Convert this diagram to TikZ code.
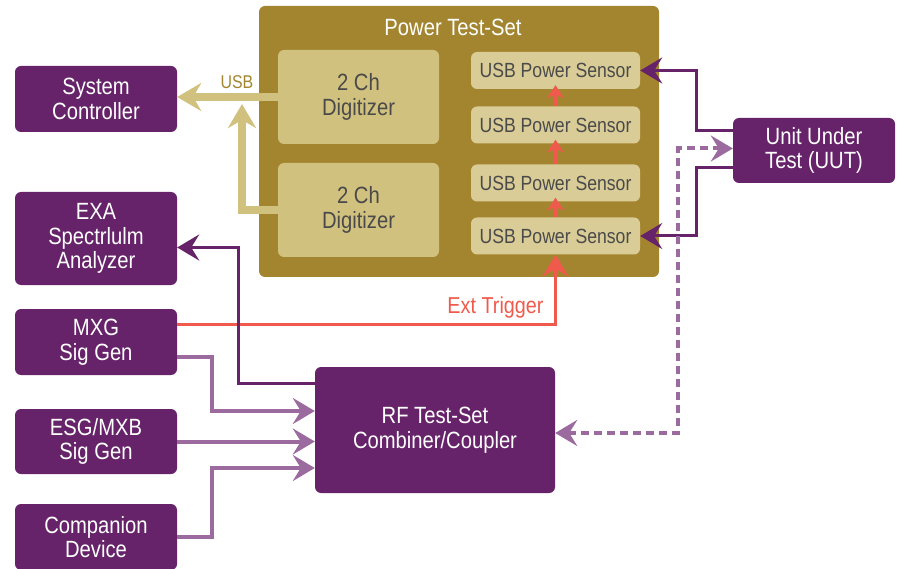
\documentclass[tikz,border=0pt]{standalone}
\usepackage{fontspec}
\setmainfont[FakeStretch=0.86]{Liberation Sans}
\usepackage{tikz}
\usetikzlibrary{arrows.meta,positioning,calc}
\definecolor{TSPurple}{HTML}{66236A}
\definecolor{TSLilac}{HTML}{9B6A9E}
\definecolor{TSGold}{HTML}{A3852F}
\definecolor{TSTan}{HTML}{D1C17F}
\definecolor{TSSand}{HTML}{D9CC96}
\definecolor{TSRed}{HTML}{F05A4C}
\definecolor{TSGray}{HTML}{4A4A4A}

\begin{document}
\begin{tikzpicture}[x=1pt, y=-1pt,
    >={Stealth[length=22pt, width=26pt, inset=8pt]},
    unitbox/.style={fill=TSPurple, text=white, rounded corners=6pt, inner sep=0pt,
        minimum width=162pt, align=center, font=\fontsize{23.5}{24.5}\selectfont},
    digibox/.style={fill=TSTan, text=TSGray, rounded corners=6pt, inner sep=0pt,
        minimum width=161pt, minimum height=94pt, align=center, font=\fontsize{23.5}{24.5}\selectfont},
    sensorbox/.style={fill=TSSand, text=TSGray, rounded corners=6pt, inner sep=0pt,
        minimum width=169pt, minimum height=37pt, font=\fontsize{20.5}{22}\selectfont},
    darkline/.style={->, TSPurple, line width=3pt},
    lightline/.style={->, TSLilac, line width=4pt},
    trigline/.style={->, TSRed, line width=3pt},
    usbline/.style={->, TSTan, line width=8pt, >={Stealth[length=24pt, width=28pt, inset=8pt]}}]
    \useasboundingbox (0,0) rectangle (899,569);

    % instruments on the left
    \node[unitbox, minimum height=66pt] (sysctrl) at (96,99) {System\\Controller};
    \node[unitbox, minimum height=93pt] (exa) at (96,238.5) {EXA\\Spectrlulm\\Analyzer};
    \node[unitbox, minimum height=66pt] (mxg) at (96,342) {MXG\\Sig Gen};
    \node[unitbox, minimum height=65pt] (esg) at (96,441.5) {ESG/MXB\\Sig Gen};
    \node[unitbox, minimum height=66pt] (comp) at (96,537) {Companion\\Device};

    % power test-set
    \node[fill=TSGold, rounded corners=6pt, minimum width=400pt, minimum height=271pt] (pts) at (459,141.5) {};
    \node[text=white, font=\fontsize{23.5}{24.5}\selectfont] (ptstitle) at (453,27) {Power Test-Set};
    \node[digibox] (dig1) at (358.5,97) {2 Ch\\Digitizer};
    \node[digibox] (dig2) at (358.5,210) {2 Ch\\Digitizer};
    \node[sensorbox] (sens1) at (555.5,70.5) {USB Power Sensor};
    \node[sensorbox] (sens2) at (555.5,125) {USB Power Sensor};
    \node[sensorbox] (sens3) at (555.5,183) {USB Power Sensor};
    \node[sensorbox] (sens4) at (555.5,236) {USB Power Sensor};

    \node[unitbox, minimum width=240pt, minimum height=126pt] (rf) at (435,430) {RF Test-Set\\Combiner/Coupler};
    \node[unitbox, minimum height=65pt] (uut) at (814,150.5) {Unit Under\\Test (UUT)};

    % usb
    \coordinate (usbjoin) at (242,104);
    \draw[usbline] (dig1.west) -- (dig1.west -| sysctrl.east);
    \draw[usbline] (dig2.west) -| (usbjoin);
    \node[text=TSGold, font=\fontsize{18.5}{20}\selectfont] (usblabel) at (237,82) {USB};

    % trigger chain
    \draw[trigline] ([yshift=18pt]mxg.east) -| (sens4.south);
    \node[text=TSRed, font=\fontsize{23}{24}\selectfont, anchor=east] (trigtext) at (547,308) {Ext Trigger};
    \foreach \lo/\hi in {sens4/sens3, sens3/sens2, sens2/sens1}
        \draw[trigline, >={Stealth[length=13pt, width=17pt, inset=4pt]}] (\lo.north) -- ([yshift=4pt]\hi.south);

    % rf paths
    \draw[darkline] ([yshift=47pt]rf.west) -| ([yshift=-9pt, xshift=61pt]exa.east) -- ([yshift=-9pt]exa.east);
    \draw[lightline] ([yshift=-15pt]mxg.east) -- ++(35,0) |- ([yshift=19pt]rf.west);
    \draw[lightline] (esg.east) -- (esg.east -| rf.west);
    \draw[lightline] (comp.east) -- ++(35,0) |- ([yshift=-38pt]rf.west);

    % uut
    \draw[darkline] ([yshift=20pt]uut.west) -- ++(-36,0) |- (sens1.east);
    \draw[darkline] ([yshift=-17pt]uut.west) -- ++(-36,0) |- (sens4.east);
    \draw[lightline, <->, dash pattern=on 8pt off 5pt] ([yshift=-3pt]rf.east) -- ++(123,0) |- ([yshift=2pt]uut.west);
\end{tikzpicture}
\end{document}
